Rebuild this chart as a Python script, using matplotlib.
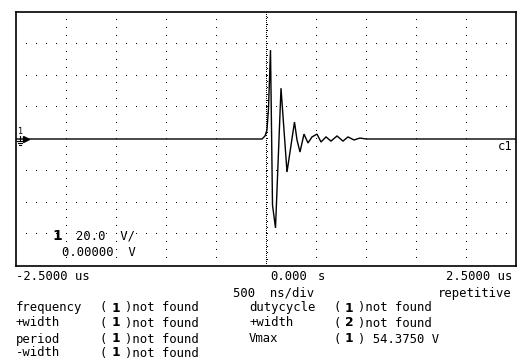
import numpy as np
import matplotlib.pyplot as plt
from matplotlib.lines import Line2D

# trace samples (time in us, amplitude in V)
t_us = [-2.5, -0.04, -0.01, 0.01, 0.025, 0.045, 0.065, 0.095, 0.15,
        0.21, 0.285, 0.31, 0.34, 0.38, 0.42, 0.46, 0.51, 0.55, 0.60,
        0.65, 0.71, 0.77, 0.82, 0.88, 0.94, 1.00, 2.5]
volts = [0, 0, 1.9, 5.7, 19.5, 56.0, -41.6, -56.0, 32.0,
         -20.8, 10.7, -0.6, -8.2, 3.1, -2.5, 1.3, 3.1, -1.9, 1.3,
         -1.3, 1.9, -1.3, 1.3, -0.6, 0.6, 0, 0]

time_labels = ["-2.5000 us", "0.000", "2.5000 us"]
meas_left = ["frequency", "+width", "period", "-width"]
meas_left_ch = ["1", "1", "1", "1"]
meas_right = ["dutycycle", "+width", "Vmax"]
meas_right_ch = ["1", "2", "1"]
meas_right_val = ["not found", "not found", " 54.3750 V"]

W, H = 520, 360
MONO = "DejaVu Sans Mono"
FS = 8.8
CW = FS * 100 / 72 * 0.602  # char width in px


def px(x, y):
    return x / W, 1 - y / H


def put(x, y, s, **kw):
    kw.setdefault("family", MONO)
    kw.setdefault("fontsize", FS)
    fig.text(*px(x, y), s, va="center", ha=kw.pop("ha", "left"), **kw)


def readout(x, y, ch, val):
    put(x, y, "(")
    put(x + 1.6 * CW, y, ch, family="DejaVu Sans", fontweight="bold")
    put(x + 3.4 * CW, y, ")" + val)


fig = plt.figure(figsize=(W / 100, H / 100), dpi=100)
ax = fig.add_axes([16 / W, 1 - 266 / H, 500 / W, 254 / H])
ax.set_xlim(-2.5, 2.5)
ax.set_ylim(-80, 80)
ax.set_xticks([])
ax.set_yticks([])
for sp in ax.spines.values():
    sp.set_linewidth(1.2)
    sp.set_color("black")

# dotted graticule, one pixel per dot
gx, gy = [], []
for yv in [-60, -40, -20, 20, 40, 60]:
    for xv in np.arange(-2.4, 2.45, 0.1):
        gx.append(xv)
        gy.append(yv)
for xv in [-2.0, -1.5, -1.0, -0.5, 0.5, 1.0, 1.5, 2.0]:
    for yv in np.arange(-75, 76, 5):
        gx.append(xv)
        gy.append(yv)
ax.plot(gx, gy, ",", color="black")

# centre axis, dense dots with small ticks
cy = np.arange(-79, 80, 1.3)
ax.plot(np.zeros_like(cy), cy, ",", color="black")
tk = np.arange(-76, 77, 4)
ax.plot(np.full_like(tk, 0.012, dtype=float), tk, ",", color="black")

ax.plot(t_us, volts, color="black", lw=1.0, solid_joinstyle="miter")

# ground / channel marker
fig.text(*px(20, 131), "1", fontsize=6, family="DejaVu Sans", va="center", ha="center")
for (x0, x1, y) in [(17, 23, 141), (18, 22, 143), (19, 21, 145)]:
    fig.add_artist(Line2D([x0 / W, x1 / W], [1 - y / H] * 2, color="black", lw=0.8))
fig.add_artist(Line2D([20 / W] * 2, [1 - 136 / H, 1 - 141 / H], color="black", lw=0.8))
fig.add_artist(Line2D([26 / W], [1 - 139 / H], marker=">", ms=4, color="black"))
put(498, 147, "c1")

# scale readout inside the screen
put(52, 236, "1", family="DejaVu Sans", fontweight="bold", fontsize=10)
put(76, 236, "20.0  V/")
put(62, 253, "0.00000  V")

# time axis labels
put(16, 277, time_labels[0])
put(270, 277, time_labels[1])
put(318, 277, "s")
put(512, 277, time_labels[2], ha="right")
put(233, 293, "500  ns/div")
put(512, 293, "repetitive", ha="right")

rows = [308, 323, 339, 353]
for i, name in enumerate(meas_left):
    put(16, rows[i], name)
    readout(100, rows[i], meas_left_ch[i], "not found")
for i, name in enumerate(meas_right):
    put(249, rows[i], name)
    readout(333, rows[i], meas_right_ch[i], meas_right_val[i])

fig.savefig("out.png", dpi=100, facecolor="white")
